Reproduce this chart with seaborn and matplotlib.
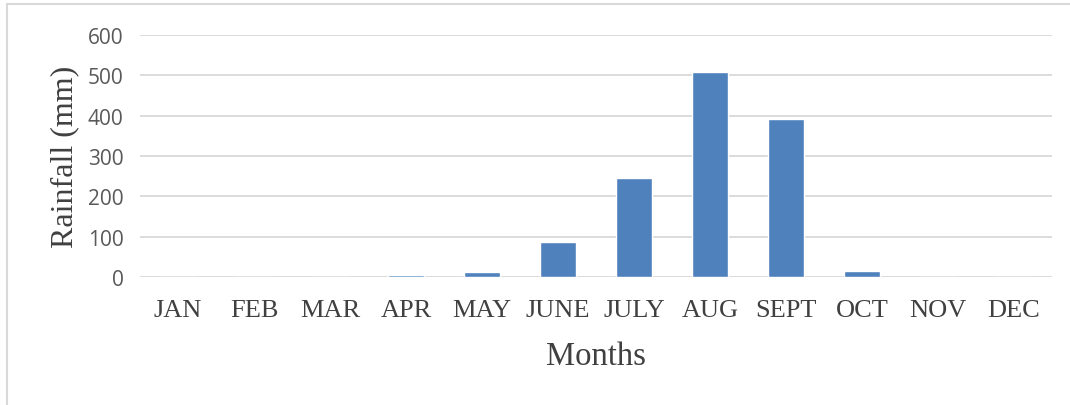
import matplotlib
matplotlib.use("Agg")
import matplotlib.pyplot as plt
import seaborn as sns
from matplotlib.lines import Line2D

months = ["JAN", "FEB", "MAR", "APR", "MAY", "JUNE", "JULY", "AUG", "SEPT", "OCT", "NOV", "DEC"]
rainfall = [0, 0, 0, 4, 12, 88, 245, 508, 392, 16, 0, 0]
y_ticks = [0, 100, 200, 300, 400, 500, 600]

sns.set_theme(style="white")
plt.rcParams["font.family"] = ["Liberation Serif", "DejaVu Serif"]

fig = plt.figure(figsize=(10.7, 4.06), dpi=100)
ax = fig.add_axes([0.131, 0.315, 0.852, 0.596])

sns.barplot(x=months, y=rainfall, color="#4f81bd", saturation=1, width=0.47, ax=ax)

ax.set_ylim(0, 600)
ax.set_yticks(y_ticks)
ax.set_yticklabels([str(v) for v in y_ticks], family="Open Sans", fontsize=15, color="#595959")
ax.set_xticks(range(len(months)))
ax.set_xticklabels(months, fontsize=19, color="#404040")
ax.tick_params(axis="y", length=0, pad=12)
ax.tick_params(axis="x", length=0, pad=16)
ax.grid(axis="y", color="#d9d9d9", linewidth=1.3)
ax.set_axisbelow(True)
for s in ax.spines.values():
    s.set_visible(False)

ax.set_xlabel("Months", fontsize=23.5, color="#404040", labelpad=14)
ax.set_ylabel("Rainfall (mm)", fontsize=23, color="#404040", labelpad=6)

# light frame around chart area
fig.add_artist(Line2D([7 / 1070, 7 / 1070], [0, 1 - 5 / 406], transform=fig.transFigure, color="#d9d9d9", lw=1.5))
fig.add_artist(Line2D([7 / 1070, 1], [1 - 5 / 406, 1 - 5 / 406], transform=fig.transFigure, color="#d9d9d9", lw=1.5))

fig.savefig("out.png", dpi=100)
plt.close(fig)
